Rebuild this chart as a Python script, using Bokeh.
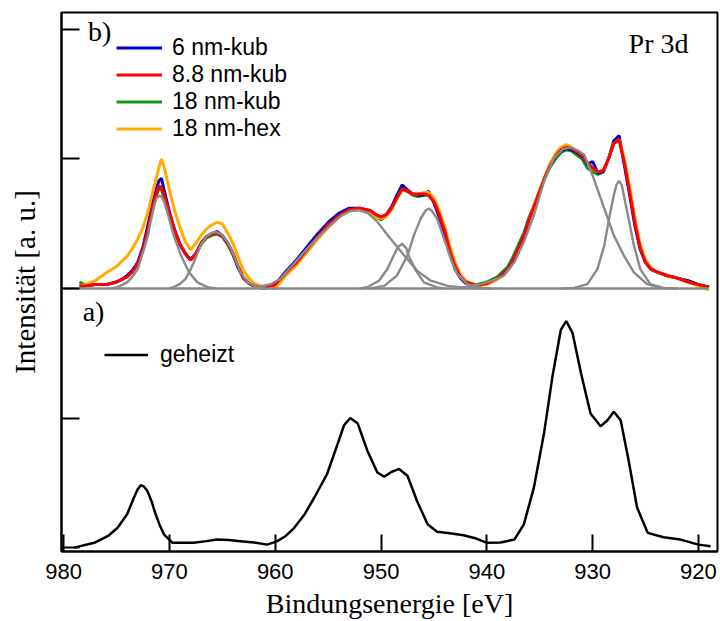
from bokeh.plotting import figure
from bokeh.models import Range1d, FixedTicker, Legend, LegendItem, Label, CustomJSTickFormatter
from bokeh.embed import file_html
from bokeh.resources import INLINE

# ---------------- data ----------------
# b) top panel: spectra of four samples (intensity above the panel baseline)
E_top = [978.5, 978, 977, 976, 975, 974.5, 974, 973.5, 973, 972.5, 972, 971.5, 971, 970.75, 970.5,
         970, 969.5, 969, 968.5, 968, 967.5, 967, 966.5, 966, 965.5, 965, 964.5, 964, 963.5, 963,
         962.5, 962, 961, 960, 959, 958, 957, 956, 955, 954, 953, 952, 951, 950.5, 950,
         949.5, 949, 948.5, 948, 947.5, 947, 946.5, 946, 945.5, 945, 944.5, 944, 943.5, 943, 942.5,
         942, 941, 940, 939, 938.5, 938, 937.5, 937, 936.5, 936, 935.5, 935, 934.5, 934, 933.5,
         933, 932.5, 932, 931.5, 931, 930.5, 930, 929.5, 929, 928.5, 928, 927.5, 927, 926.5, 926,
         925.5, 925, 924.5, 924, 923, 922, 921, 920, 919]

I_6nm_kub = [0.02, 0.02, 0.03, 0.03, 0.05, 0.07, 0.10, 0.14, 0.20, 0.32, 0.50, 0.70, 0.83, 0.85, 0.76,
             0.59, 0.45, 0.34, 0.27, 0.22, 0.27, 0.35, 0.40, 0.42, 0.44, 0.41, 0.35, 0.27, 0.16, 0.08,
             0.04, 0.02, 0.00, 0.03, 0.13, 0.22, 0.32, 0.42, 0.51, 0.58, 0.62, 0.62, 0.60, 0.57, 0.55,
             0.57, 0.63, 0.72, 0.80, 0.76, 0.73, 0.72, 0.72, 0.75, 0.66, 0.55, 0.43, 0.27, 0.15, 0.08,
             0.04, 0.02, 0.04, 0.08, 0.11, 0.15, 0.22, 0.31, 0.41, 0.54, 0.64, 0.75, 0.86, 0.95, 1.02,
             1.06, 1.08, 1.07, 1.05, 1.02, 0.96, 0.98, 0.89, 0.90, 1.00, 1.14, 1.18, 0.95, 0.72, 0.48,
             0.30, 0.20, 0.15, 0.13, 0.10, 0.08, 0.06, 0.03, 0.01]

I_8_8nm_kub = [0.02, 0.02, 0.03, 0.03, 0.05, 0.07, 0.09, 0.13, 0.19, 0.30, 0.47, 0.66, 0.79, 0.78, 0.72,
               0.58, 0.45, 0.34, 0.27, 0.22, 0.27, 0.35, 0.40, 0.42, 0.43, 0.40, 0.35, 0.27, 0.17, 0.08,
               0.04, 0.02, 0.00, 0.03, 0.12, 0.20, 0.30, 0.40, 0.49, 0.56, 0.61, 0.62, 0.60, 0.57, 0.55,
               0.57, 0.62, 0.70, 0.77, 0.75, 0.73, 0.73, 0.73, 0.72, 0.67, 0.57, 0.45, 0.29, 0.17, 0.09,
               0.05, 0.02, 0.04, 0.08, 0.11, 0.15, 0.22, 0.31, 0.40, 0.53, 0.64, 0.75, 0.86, 0.95, 1.02,
               1.07, 1.09, 1.08, 1.06, 1.03, 0.97, 0.93, 0.90, 0.91, 1.00, 1.12, 1.15, 0.97, 0.74, 0.50,
               0.31, 0.20, 0.15, 0.13, 0.10, 0.08, 0.05, 0.03, 0.01]

I_18nm_kub = [0.05, 0.03, 0.03, 0.03, 0.05, 0.07, 0.09, 0.13, 0.19, 0.30, 0.47, 0.65, 0.77, 0.76, 0.70,
              0.57, 0.44, 0.34, 0.27, 0.22, 0.26, 0.34, 0.39, 0.41, 0.42, 0.40, 0.34, 0.26, 0.16, 0.08,
              0.04, 0.02, 0.01, 0.03, 0.13, 0.21, 0.31, 0.41, 0.49, 0.56, 0.60, 0.61, 0.59, 0.55, 0.53,
              0.56, 0.62, 0.70, 0.77, 0.75, 0.72, 0.71, 0.72, 0.72, 0.67, 0.57, 0.45, 0.29, 0.17, 0.09,
              0.05, 0.03, 0.05, 0.09, 0.13, 0.17, 0.25, 0.34, 0.43, 0.55, 0.65, 0.76, 0.86, 0.94, 1.00,
              1.05, 1.07, 1.06, 1.03, 1.00, 0.93, 0.90, 0.88, 0.90, 1.00, 1.12, 1.15, 0.98, 0.75, 0.51,
              0.32, 0.21, 0.16, 0.13, 0.10, 0.08, 0.06, 0.03, 0.01]

I_18nm_hex = [0.02, 0.03, 0.06, 0.12, 0.17, 0.21, 0.25, 0.31, 0.38, 0.47, 0.60, 0.77, 0.93, 1.00, 0.94,
              0.76, 0.60, 0.47, 0.36, 0.30, 0.35, 0.41, 0.46, 0.49, 0.51, 0.50, 0.43, 0.35, 0.24, 0.14,
              0.08, 0.04, 0.01, 0.00, 0.10, 0.18, 0.28, 0.38, 0.47, 0.55, 0.60, 0.61, 0.58, 0.55, 0.54,
              0.56, 0.61, 0.69, 0.76, 0.75, 0.73, 0.73, 0.74, 0.74, 0.70, 0.60, 0.48, 0.33, 0.20, 0.11,
              0.06, 0.02, 0.03, 0.07, 0.10, 0.14, 0.21, 0.30, 0.40, 0.53, 0.65, 0.76, 0.87, 0.97, 1.04,
              1.09, 1.11, 1.09, 1.06, 1.03, 0.97, 0.93, 0.90, 0.91, 1.00, 1.12, 1.15, 1.00, 0.78, 0.54,
              0.34, 0.22, 0.16, 0.13, 0.10, 0.08, 0.05, 0.02, -0.01]

# b) fitted components (gray)
fit_base_E = [980.0, 919.0]
fit_base_I = [0.0, 0.0]
fit1_E = [975.5, 974.9, 974.0, 973.5, 973.0, 972.4, 972.0, 971.78, 971.4, 971.2, 970.9, 970.7, 970.5, 970.2,
          969.6, 968.9, 968.15, 967.35, 966.4, 965.5]
fit1_I = [0.0, 0.01, 0.047, 0.09, 0.15, 0.306, 0.42, 0.514, 0.65, 0.70, 0.716, 0.705, 0.67, 0.59,
          0.41, 0.254, 0.125, 0.047, 0.01, 0.0]
fit2_E = [970.0, 969.6, 969.0, 968.5, 968.1, 967.7, 967.05, 966.5, 966.0, 965.6, 965.1, 964.5, 963.9,
          963.3, 962.6, 961.7, 961.0]
fit2_I = [0.0, 0.01, 0.035, 0.072, 0.13, 0.20, 0.332, 0.40, 0.43, 0.436, 0.42, 0.358, 0.254,
          0.125, 0.047, 0.01, 0.0]
fit3_E = [962.0, 960.4, 959.5, 958.55, 957.0, 955.8, 954.8, 953.8, 952.9, 952.1, 951.2, 950.35, 949.1,
          947.8, 946.6, 945.3, 943.7, 941.8, 940.0]
fit3_I = [0.005, 0.034, 0.075, 0.163, 0.306, 0.41, 0.488, 0.56, 0.598, 0.605, 0.58, 0.514, 0.384,
          0.254, 0.138, 0.06, 0.02, 0.005, 0.0]
fit4_E = [952.0, 951.3, 950.2, 949.4, 948.8, 948.4, 948.0, 947.6, 947.4, 946.7, 945.95, 944.7, 944.0]
fit4_I = [0.0, 0.01, 0.06, 0.15, 0.254, 0.32, 0.345, 0.31, 0.254, 0.138, 0.047, 0.008, 0.0]
fit5_E = [951.0, 949.7, 948.5, 947.5, 946.9, 946.25, 945.8, 945.5, 945.2, 944.7, 944.05, 943.4, 942.8,
          941.85, 940.6, 939.5]
fit5_I = [0.0, 0.02, 0.099, 0.254, 0.41, 0.539, 0.60, 0.617, 0.60, 0.539, 0.384, 0.228, 0.111,
          0.034, 0.005, 0.0]
fit6_E = [942.5, 940.6, 939.5, 938.4, 937.4, 936.5, 935.55, 934.6, 933.65, 932.8, 932.1, 931.4, 930.8,
          929.9, 928.9, 928.0, 927.05, 926.1, 924.85, 923.6, 922.0]
fit6_I = [0.005, 0.034, 0.06, 0.099, 0.202, 0.358, 0.566, 0.825, 1.007, 1.075, 1.09, 1.065, 1.033,
          0.85, 0.617, 0.41, 0.254, 0.125, 0.034, 0.005, 0.0]
fit7_E = [933.0, 931.75, 930.5, 929.55, 928.9, 928.45, 928.0, 927.75, 927.5, 927.25, 927.05, 926.6,
          926.1, 925.5, 924.55, 923.3, 922.0]
fit7_I = [0.0, 0.005, 0.034, 0.15, 0.332, 0.539, 0.72, 0.80, 0.83, 0.80, 0.72, 0.539, 0.332, 0.15,
          0.034, 0.005, 0.0]

# a) bottom panel: heated sample
E_geheizt = [979.0, 977.1, 975.8, 974.9, 974.0, 973.35, 973.0, 972.7, 972.4, 972.1, 971.7, 971.3, 970.9,
             970.5, 969.7, 968.7, 967.7, 966.5, 965.5, 964.4, 963.3, 962.0, 960.75, 959.8, 959.0, 958.2,
             957.2, 956.3, 955.1, 954.1, 953.5, 952.9, 952.2, 951.3, 950.35, 949.7, 949.1, 948.3, 947.5,
             946.6, 945.6, 944.7, 943.5, 942.2, 941.0, 940.0, 938.7, 937.4, 936.5, 935.55, 934.6, 933.8,
             933.0, 932.5, 931.9, 931.1, 930.2, 929.25, 928.6, 928.0, 927.35, 926.6, 925.8, 924.8, 923.3,
             921.7, 920.0, 918.85]
I_geheizt = [0.0, 0.037, 0.09, 0.153, 0.257, 0.387, 0.45, 0.482, 0.47, 0.44, 0.36, 0.257, 0.17,
             0.10, 0.037, 0.037, 0.037, 0.05, 0.062, 0.058, 0.05, 0.04, 0.023, 0.05, 0.09, 0.153,
             0.26, 0.387, 0.568, 0.80, 0.944, 1.0, 0.957, 0.75, 0.58, 0.547, 0.58, 0.607, 0.555,
             0.36, 0.18, 0.122, 0.11, 0.096, 0.07, 0.037, 0.04, 0.062, 0.18, 0.465, 0.88, 1.32,
             1.683, 1.748, 1.657, 1.346, 1.035, 0.936, 0.983, 1.048, 0.983, 0.672, 0.309, 0.114, 0.08,
             0.062, 0.023, 0.01]

x_ticks = [980, 970, 960, 950, 940, 930, 920]
y_ticks = [0, 1, 2, 3, 4]
top_offset = 2.0

# ---------------- figure ----------------
p = figure(width=720, height=621, output_backend="svg", toolbar_location=None,
           x_range=Range1d(980.2, 918.2), y_range=Range1d(-0.03, 4.13),
           min_border_left=61, min_border_right=3, min_border_top=12, min_border_bottom=70)
p.background_fill_color = "white"
p.border_fill_color = "white"
p.xgrid.visible = False
p.ygrid.visible = False
p.outline_line_color = "black"
p.outline_line_width = 2

def shift(vals):
    return [v + top_offset for v in vals]

lw = 3.0
r_green = p.line(E_top, shift(I_18nm_kub), line_color="#119911", line_width=lw)
r_blue = p.line(E_top, shift(I_6nm_kub), line_color="#0000c8", line_width=lw)
r_orange = p.line(E_top, shift(I_18nm_hex), line_color="#ffab00", line_width=lw)
r_red = p.line(E_top, shift(I_8_8nm_kub), line_color="#ff0000", line_width=lw)

gray = "#8a8a8a"
for ex, iy in [(fit_base_E, fit_base_I), (fit1_E, fit1_I), (fit2_E, fit2_I), (fit3_E, fit3_I),
               (fit4_E, fit4_I), (fit5_E, fit5_I), (fit6_E, fit6_I), (fit7_E, fit7_I)]:
    p.line(ex, shift(iy), line_color=gray, line_width=2.4)

r_black = p.line(E_geheizt, I_geheizt, line_color="black", line_width=2.5)

# axes
p.xaxis.ticker = FixedTicker(ticks=x_ticks)
p.xaxis.minor_tick_line_color = None
p.xaxis.major_tick_in = 17
p.xaxis.major_tick_out = 0
p.xaxis.major_tick_line_width = 2
p.xaxis.axis_line_width = 2
p.xaxis.major_label_text_font = "Liberation Sans"
p.xaxis.major_label_text_font_size = "22px"
p.xaxis.major_label_text_color = "black"
p.xaxis.major_label_standoff = 12
p.xaxis.axis_label = "Bindungsenergie [eV]"
p.xaxis.axis_label_text_font = "Liberation Serif"
p.xaxis.axis_label_text_font_size = "28px"
p.xaxis.axis_label_text_font_style = "normal"
p.xaxis.axis_label_text_color = "black"
p.xaxis.axis_label_standoff = 6

p.yaxis.ticker = FixedTicker(ticks=y_ticks)
p.yaxis.minor_tick_line_color = None
p.yaxis.major_tick_in = 18
p.yaxis.major_tick_out = 0
p.yaxis.major_tick_line_width = 2
p.yaxis.axis_line_width = 2
p.yaxis.formatter = CustomJSTickFormatter(code="return ''")
p.yaxis.major_label_standoff = 0
p.yaxis.axis_label = "Intensität [a. u.]"
p.yaxis.axis_label_text_font = "Liberation Serif"
p.yaxis.axis_label_text_font_size = "29px"
p.yaxis.axis_label_text_font_style = "normal"
p.yaxis.axis_label_text_color = "black"
p.yaxis.axis_label_standoff = 21

# legends
def style_legend(leg, gw, standoff):
    leg.background_fill_alpha = 0
    leg.border_line_alpha = 0
    leg.padding = 0
    leg.margin = 0
    leg.spacing = 0
    leg.label_text_font = "Liberation Sans"
    leg.label_text_font_size = "23px"
    leg.label_text_color = "black"
    leg.glyph_width = gw
    leg.glyph_height = 27
    leg.label_height = 27
    leg.label_standoff = standoff

leg1 = Legend(items=[LegendItem(label="6 nm-kub", renderers=[r_blue]),
                     LegendItem(label="8.8 nm-kub", renderers=[r_red]),
                     LegendItem(label="18 nm-kub", renderers=[r_green]),
                     LegendItem(label="18 nm-hex", renderers=[r_orange])],
              location=(55, 409))
style_legend(leg1, 46, 10)
p.add_layout(leg1)

leg2 = Legend(items=[LegendItem(label="geheizt", renderers=[r_black])], location=(43, 183))
style_legend(leg2, 44, 12)
p.add_layout(leg2)

# panel labels
for txt, xx, yy in [("b)", 977.7, 3.985), ("a)", 978.2, 1.82), ("Pr 3d", 926.6, 3.89)]:
    p.add_layout(Label(x=xx, y=yy, text=txt, text_font="Liberation Serif", text_font_size="28px",
                       text_color="black", text_baseline="alphabetic", text_align="left"))

open("out.html", "w").write(file_html(p, INLINE))
